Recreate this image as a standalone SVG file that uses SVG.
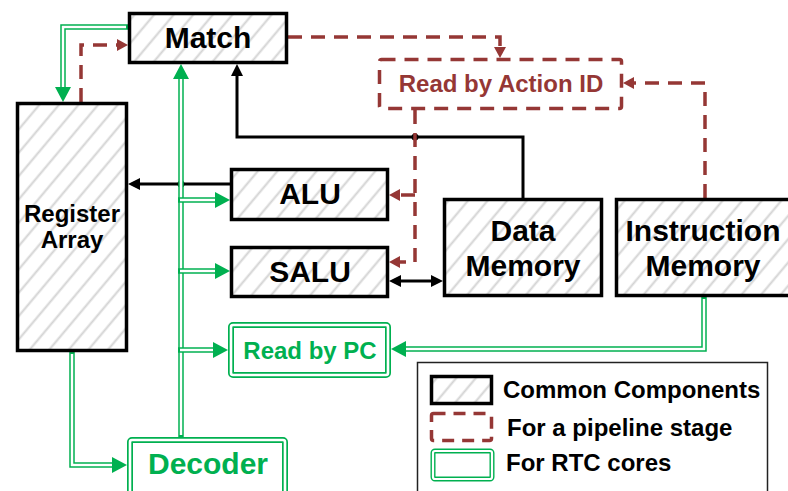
<svg xmlns="http://www.w3.org/2000/svg" width="788" height="491" viewBox="0 0 788 491">
  <style>
    text { font-family: "Liberation Sans", Arial, sans-serif; font-weight: bold; text-anchor: middle; }
    .box { fill: url(#hatch); stroke: #000; stroke-width: 3.5; }
    .dbox { fill: #fff; stroke: #953735; stroke-width: 3.5; stroke-dasharray: 14 9; }
    .gbox { fill: #fff; stroke: #00b050; stroke-width: 6; }
    .gin { fill: none; stroke: #fff; stroke-width: 2.6; }
    .blk { fill: none; stroke: #000; stroke-width: 3; }
    .red { fill: none; stroke: #953735; stroke-width: 3.5; stroke-dasharray: 14 9; }
    .g { fill: none; stroke: #00b050; stroke-width: 5.5; }
    .gw { fill: none; stroke: #fff; stroke-width: 2.5; }
    .big { font-size: 30px; fill: #000; }
    .mid { font-size: 24px; fill: #000; }
    .leg { font-size: 24px; fill: #000; text-anchor: start; }
  </style>
  <defs>
    <pattern id="hatch" patternUnits="userSpaceOnUse" width="15" height="15" patternTransform="rotate(40)">
      <rect width="15" height="15" fill="#fff"/>
      <line x1="7.5" y1="0" x2="7.5" y2="15" stroke="#d3d3d3" stroke-width="2"/>
    </pattern>
    <marker id="ab" markerUnits="userSpaceOnUse" markerWidth="12" markerHeight="12" refX="0" refY="6" orient="auto-start-reverse">
      <path d="M0,0 L12,6 L0,12 Z" fill="#000"/>
    </marker>
    <marker id="ar" markerUnits="userSpaceOnUse" markerWidth="11" markerHeight="12" refX="0" refY="6" orient="auto">
      <path d="M0,0 L11,6 L0,12 Z" fill="#953735"/>
    </marker>
    <marker id="ag" markerUnits="userSpaceOnUse" markerWidth="15" markerHeight="16" refX="0" refY="8" orient="auto">
      <path d="M0,0 L15,8 L0,16 Z" fill="#00b050"/>
    </marker>
  </defs>

  <rect width="788" height="491" fill="#fff"/>

  <!-- connectors -->
  <g id="connectors">
    <!-- common datapath (black) -->
    <path class="blk" d="M523,198 V137 H237 V76" marker-end="url(#ab)"/>
    <circle cx="415" cy="137" r="3.5" fill="#000"/>
    <path class="blk" d="M230,184 H140" marker-end="url(#ab)"/>
    <circle cx="181" cy="184" r="3.5" fill="#000"/>
    <path class="blk" d="M401,281 H431" marker-start="url(#ab)" marker-end="url(#ab)"/>

    <!-- pipeline stage paths (red dashed) -->
    <path class="red" d="M81,102 V45 H117" marker-end="url(#ar)"/>
    <path class="red" d="M288,37 H500 V47" marker-end="url(#ar)"/>
    <path class="red" d="M705,198 V83 H634" marker-end="url(#ar)"/>
    <path class="red" d="M415,110 V262 H400" marker-end="url(#ar)"/>
    <path class="red" d="M415,195 H400" marker-end="url(#ar)"/>

    <!-- RTC core paths (green double lines) -->
    <path class="g" d="M128,27 H63 V87" marker-end="url(#ag)"/>
    <path class="gw" d="M126,27 H63 V87"/>
    <path class="g" d="M181,437 V79" marker-end="url(#ag)"/>
    <path class="gw" d="M181,435 V79"/>
    <path class="g" d="M178,200 H215" marker-end="url(#ag)"/>
    <path class="gw" d="M180,200 H215"/>
    <path class="g" d="M178,271 H215" marker-end="url(#ag)"/>
    <path class="gw" d="M180,271 H215"/>
    <path class="g" d="M178,350 H213" marker-end="url(#ag)"/>
    <path class="gw" d="M180,350 H213"/>
    <path class="g" d="M72,352 V465 H112" marker-end="url(#ag)"/>
    <path class="gw" d="M72,354 V465 H112"/>
    <path class="g" d="M704,297 V349 H406" marker-end="url(#ag)"/>
    <path class="gw" d="M704,299 V349 H406"/>
  </g>

  <!-- nodes -->
  <g id="match">
    <rect class="box" x="129.5" y="13.5" width="157" height="49"/>
    <text class="big" x="208" y="48">Match</text>
  </g>
  <g id="register-array">
    <rect class="box" x="17.5" y="103.5" width="109" height="247"/>
    <text class="mid" x="72" y="222">Register</text>
    <text class="mid" x="72" y="248">Array</text>
  </g>
  <g id="alu">
    <rect class="box" x="231.5" y="169.5" width="156" height="50"/>
    <text class="big" x="310" y="204">ALU</text>
  </g>
  <g id="salu">
    <rect class="box" x="231.5" y="247.5" width="156" height="49"/>
    <text class="big" x="310" y="282">SALU</text>
  </g>
  <g id="data-memory">
    <rect class="box" x="444.5" y="199.5" width="157" height="96"/>
    <text class="big" x="523" y="241">Data</text>
    <text class="big" x="523" y="276">Memory</text>
  </g>
  <g id="instruction-memory">
    <rect class="box" x="616.5" y="199.5" width="176" height="96"/>
    <text class="big" x="703" y="241">Instruction</text>
    <text class="big" x="703" y="276">Memory</text>
  </g>
  <g id="read-by-action-id">
    <rect class="dbox" x="379.5" y="59.5" width="242" height="49" rx="2"/>
    <text class="mid" x="501" y="92" style="fill:#953735">Read by Action ID</text>
  </g>
  <g id="read-by-pc">
    <rect class="gbox" x="231" y="325" width="157" height="50" rx="2"/>
    <rect class="gin" x="231" y="325" width="157" height="50" rx="2"/>
    <text class="mid" x="310" y="359" style="fill:#00b050">Read by PC</text>
  </g>
  <g id="decoder">
    <rect class="gbox" x="130" y="440" width="155" height="70" rx="2"/>
    <rect class="gin" x="130" y="440" width="155" height="70" rx="2"/>
    <text class="big" x="208" y="474" style="fill:#00b050">Decoder</text>
  </g>

  <!-- legend -->
  <g id="legend">
    <rect x="417.5" y="362.5" width="350" height="140" fill="#fff" stroke="#222" stroke-width="1.5"/>
    <rect class="box" x="431.5" y="376.5" width="60" height="27"/>
    <text class="leg" x="503" y="398">Common Components</text>
    <rect class="dbox" x="431.5" y="413.5" width="60" height="27" rx="2" style="stroke-dasharray:12 8"/>
    <text class="leg" x="507" y="436">For a pipeline stage</text>
    <rect class="gbox" x="433" y="451" width="59" height="28" rx="2" style="stroke-width:5"/>
    <rect class="gin" x="433" y="451" width="59" height="28" rx="2" style="stroke-width:2.2"/>
    <text class="leg" x="506" y="471">For RTC cores</text>
  </g>
</svg>
